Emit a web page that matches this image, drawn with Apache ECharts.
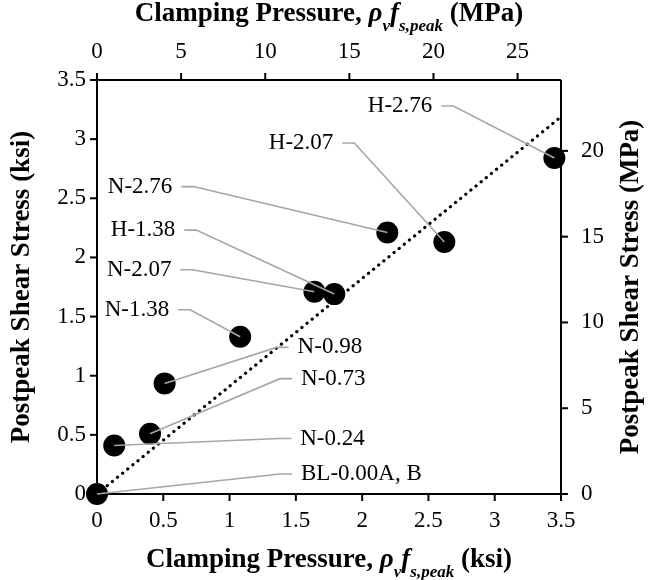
<!DOCTYPE html>
<html>
<head>
<meta charset="utf-8">
<script src="https://cdn.jsdelivr.net/npm/echarts@6/dist/echarts.min.js"></script>
<style>
  html, body { margin: 0; padding: 0; background: #fff; }
  #chart { width: 653px; height: 580px; }
</style>
</head>
<body>
<div id="chart"></div>
<script>
// Specimen names and measured values (ksi)
const specimens = ['BL-0.00A, B', 'N-0.24', 'N-0.73', 'N-0.98', 'N-1.38', 'N-2.07', 'H-1.38', 'N-2.76', 'H-2.07', 'H-2.76'];
const clampingKsi = [0, 0.13, 0.40, 0.51, 1.08, 1.64, 1.79, 2.19, 2.62, 3.45];
const shearKsi = [0, 0.41, 0.51, 0.935, 1.33, 1.71, 1.69, 2.21, 2.13, 2.84];

// Dotted reference line end points (ksi)
const trendX = [0, 3.48];
const trendY = [0, 3.17];

// Tick values for each axis
const ksiTicks = [0, 0.5, 1, 1.5, 2, 2.5, 3, 3.5];
const topMpaTicks = [0, 5, 10, 15, 20, 25];
const rightMpaTicks = [0, 5, 10, 15, 20];

// Axis ranges
const KSI_TO_MPA = 6.895;
const ksiMax = 3.5;
const topMpaMax = 27.58;

// Callout placement in pixels relative to each point: elbow offset and text side
const callouts = [
  { dx: 183, dy: -20, side: 'right' },
  { dx: 165, dy: -7, side: 'right' },
  { dx: 130, dy: -55, side: 'right' },
  { dx: 112, dy: -36, side: 'right' },
  { dx: -50, dy: -27, side: 'left' },
  { dx: -122, dy: -22, side: 'left' },
  { dx: -138, dy: -64, side: 'left' },
  { dx: -194, dy: -46, side: 'left' },
  { dx: -90, dy: -99, side: 'left' },
  { dx: -101, dy: -52, side: 'left' }
];

const serif = '"Liberation Serif", "Times New Roman", serif';
const points = clampingKsi.map((x, i) => [x, shearKsi[i]]);
const trend = trendX.map((x, i) => [x, trendY[i]]);

// Explicit solid pattern so frame strokes never pick up a dash state
const SOLID = [1000, 0];

function titleRich() {
  return {
    b: { fontFamily: serif, fontWeight: 'bold', fontSize: 27, color: '#000', lineHeight: 30 },
    i: { fontFamily: serif, fontWeight: 'bold', fontStyle: 'italic', fontSize: 27, color: '#000', lineHeight: 30 },
    s: { fontFamily: serif, fontWeight: 'bold', fontStyle: 'italic', fontSize: 17, color: '#000', lineHeight: 30, verticalAlign: 'bottom', padding: [0, 0, -6, 0] }
  };
}
function yTitleStyle() {
  return { fontFamily: serif, fontWeight: 'bold', fontSize: 27, color: '#000' };
}
function axisLabel(margin, hideMax) {
  return { show: true, margin: margin, showMaxLabel: !hideMax, color: '#000', fontFamily: serif, fontSize: 23 };
}
function bareAxis() {
  return { axisLine: { show: false, onZero: false }, axisTick: { show: false }, splitLine: { show: false } };
}

// Plot frame and outward tick marks on all four sides, placed through the ksi scales
function renderFrame(params, api) {
  const lo = api.coord([0, 0]);
  const hi = api.coord([ksiMax, ksiMax]);
  const left = lo[0], bottom = lo[1], right = hi[0], top = hi[1];
  const len = 7;
  const stroke = { stroke: '#000', lineWidth: 2, lineDash: SOLID, fill: null };
  const tick = (x1, y1, x2, y2) => ({
    type: 'line', shape: { x1: x1, y1: y1, x2: x2, y2: y2 }, style: Object.assign({}, stroke)
  });
  const children = [
    tick(left, top, right, top),
    tick(right, top, right, bottom),
    tick(right, bottom, left, bottom),
    tick(left, bottom, left, top)
  ];
  ksiTicks.forEach(function (v) {
    const px = api.coord([v, 0])[0];
    const py = api.coord([0, v])[1];
    children.push(tick(px, bottom, px, bottom + len));
    children.push(tick(left - len, py, left, py));
  });
  topMpaTicks.forEach(function (v) {
    const px = api.coord([v * ksiMax / topMpaMax, 0])[0];
    children.push(tick(px, top - len, px, top));
  });
  rightMpaTicks.forEach(function (v) {
    const py = api.coord([0, v / KSI_TO_MPA])[1];
    children.push(tick(right, py, right + len, py));
  });
  return { type: 'group', children: children };
}

const chart = echarts.init(document.getElementById('chart'), null, { renderer: 'canvas' });

chart.setOption({
  backgroundColor: '#fff',
  animation: false,
  grid: { left: 97, right: 92, top: 80, bottom: 86, outerBoundsMode: 'none', show: false },
  xAxis: [
    Object.assign(bareAxis(), {
      type: 'value', position: 'bottom', min: 0, max: ksiMax, interval: 0.5,
      name: '{b|Clamping Pressure, }{i|ρ}{s|v}{i|f}{s|s,peak}{b| (ksi)}',
      nameLocation: 'middle', nameGap: 51,
      nameTextStyle: { rich: titleRich() },
      axisLabel: axisLabel(15, false)
    }),
    Object.assign(bareAxis(), {
      type: 'value', position: 'top', min: 0, max: topMpaMax, interval: 5,
      name: '{b|Clamping Pressure, }{i|ρ}{s|v}{i|f}{s|s,peak}{b| (MPa)}',
      nameLocation: 'middle', nameGap: 49,
      nameTextStyle: { rich: titleRich() },
      axisLabel: axisLabel(17, true)
    })
  ],
  yAxis: [
    Object.assign(bareAxis(), {
      type: 'value', position: 'left', min: 0, max: ksiMax, interval: 0.5,
      name: 'Postpeak Shear Stress (ksi)',
      nameLocation: 'middle', nameGap: 61, nameRotate: 90,
      nameTextStyle: yTitleStyle(),
      axisLabel: axisLabel(11, false)
    }),
    Object.assign(bareAxis(), {
      type: 'value', position: 'right', min: 0, max: ksiMax * KSI_TO_MPA, interval: 5,
      name: 'Postpeak Shear Stress (MPa)',
      nameLocation: 'middle', nameGap: 57, nameRotate: 90,
      nameTextStyle: yTitleStyle(),
      axisLabel: axisLabel(20, true)
    })
  ],
  series: [
    {
      type: 'custom', name: 'frame', data: [[0, 0]], xAxisIndex: 0, yAxisIndex: 0,
      encode: { x: 0, y: 1 }, z: 2, silent: true, clip: false,
      renderItem: renderFrame
    },
    {
      // dotted line lives on its own layer so its dash pattern stays isolated
      type: 'line', name: 'trend', data: trend, xAxisIndex: 0, yAxisIndex: 0,
      symbol: 'none', silent: true, zlevel: 1, z: 3,
      lineStyle: { color: '#000', width: 3.2, type: [0.1, 6.5], cap: 'round' }
    },
    {
      type: 'scatter', name: 'specimens', data: points, xAxisIndex: 0, yAxisIndex: 0,
      symbol: 'circle', symbolSize: 22, zlevel: 1, z: 4,
      itemStyle: { color: '#000', opacity: 1 }
    },
    {
      type: 'custom', name: 'callouts', data: points, xAxisIndex: 0, yAxisIndex: 0,
      encode: { x: 0, y: 1 }, zlevel: 1, z: 5, silent: true,
      renderItem: function (params, api) {
        const p = api.coord([api.value(0), api.value(1)]);
        const c = callouts[params.dataIndex];
        const ex = p[0] + c.dx, ey = p[1] + c.dy;
        const left = c.side === 'left';
        const hx = ex + (left ? -12 : 12);
        return {
          type: 'group',
          children: [
            {
              type: 'polyline',
              shape: { points: [[p[0], p[1]], [ex, ey], [hx, ey]] },
              style: { stroke: '#a6a6a6', lineWidth: 1.6, lineDash: SOLID, fill: null }
            },
            {
              type: 'text',
              x: hx + (left ? -9 : 9), y: ey,
              style: {
                text: specimens[params.dataIndex],
                align: left ? 'right' : 'left', verticalAlign: 'middle',
                fontFamily: serif, fontSize: 23, fill: '#000'
              }
            }
          ]
        };
      }
    }
  ]
});
</script>
</body>
</html>
